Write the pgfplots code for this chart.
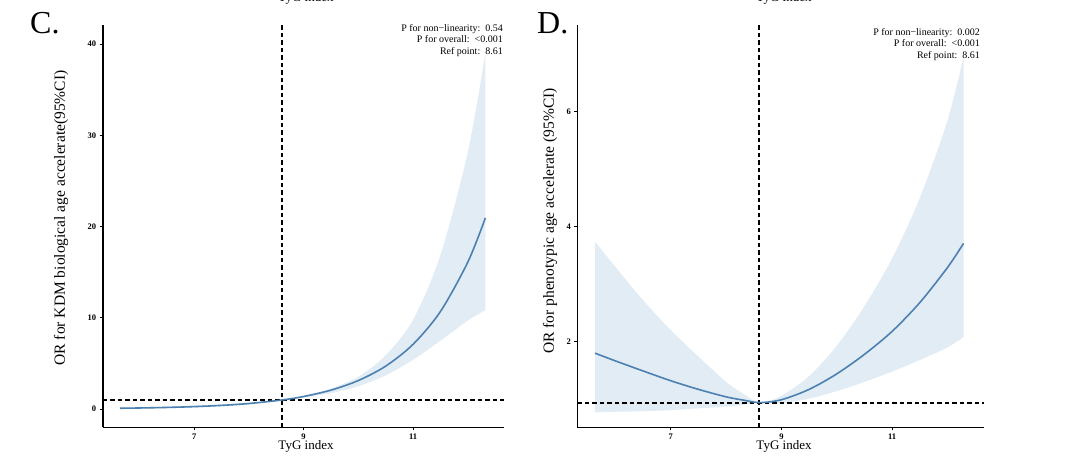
\documentclass[border=0pt]{standalone}
\usepackage{pgfplots}
\pgfplotsset{compat=1.18}
\usepackage{pgfplotstable}
\usepgfplotslibrary{fillbetween}
\usepackage{fontspec}
\setmainfont{Liberation Serif}
\definecolor{curveblue}{RGB}{76,128,176}
\definecolor{bandblue}{RGB}{226,236,245}

\pgfplotstableread{
x y up lo
5.65 0.088 0.16 0.047
6.0 0.118 0.20 0.068
6.5 0.177 0.28 0.113
7.0 0.267 0.38 0.188
7.5 0.402 0.52 0.313
8.0 0.606 0.70 0.52
8.61 1.0 1.0 1.0
9.0 1.377 1.45 1.28
9.5 2.075 2.25 1.75
10.0 3.127 3.55 2.50
10.5 4.71 5.90 3.70
11.0 7.10 9.80 5.40
11.5 10.70 16.90 7.50
12.0 16.12 28.20 9.70
12.32 20.95 39.0 10.83
}\dataC

\pgfplotstableread{
x y up lo
5.63 1.80 3.74 0.77
6.0 1.665 3.30 0.78
6.5 1.49 2.72 0.79
7.0 1.32 2.20 0.81
7.5 1.17 1.74 0.84
8.0 1.04 1.30 0.87
8.3 0.985 1.10 0.90
8.61 0.94 0.94 0.94
9.0 0.99 1.06 0.93
9.5 1.17 1.40 1.01
10.0 1.44 1.93 1.14
10.5 1.78 2.62 1.30
11.0 2.18 3.45 1.48
11.5 2.68 4.50 1.68
12.0 3.29 5.85 1.90
12.29 3.71 6.95 2.08
}\dataD

\begin{document}
\begin{tikzpicture}
\pgfplotsset{
  panel/.style={
    scale only axis, anchor=south west,
    axis x line*=bottom, axis y line*=left,
    axis line style={line width=1.6pt, black},
    xtick={7,9,11},
    tick style={line width=0.8pt, black},
    major tick length=3pt, tick align=outside,
    ticklabel style={font=\bfseries\fontsize{8.5}{8.5}\selectfont},
    /pgf/number format/assume math mode=true,
  },
  refline/.style={black, line width=1.8pt, dash pattern=on 4.5pt off 3pt},
}

% Panel C
\begin{axis}[panel, at={(102.7pt,31.7pt)}, width=401.3pt, height=402.3pt,
  xmin=5.33, xmax=12.66, ymin=-2, ymax=42.1, ytick={0,10,20,30,40}]
  \addplot[name path=cu, draw=none, smooth] table[x=x,y=up]{\dataC};
  \addplot[name path=cl, draw=none, smooth] table[x=x,y=lo]{\dataC};
  \addplot[fill=bandblue, draw=none] fill between[of=cu and cl];
  \addplot[refline] coordinates {(8.61,-2) (8.61,42.1)};
  \addplot[refline] coordinates {(5.33,1) (12.66,1)};
  \addplot[curveblue, line width=1.6pt, smooth] table[x=x,y=y]{\dataC};
\end{axis}

% Panel D
\begin{axis}[panel, at={(577.3pt,31.7pt)}, width=406.7pt, height=402.3pt,
  xmin=5.31, xmax=12.66, ymin=0.51, ymax=7.51, ytick={2,4,6}]
  \addplot[name path=du, draw=none, smooth] table[x=x,y=up]{\dataD};
  \addplot[name path=dl, draw=none, smooth] table[x=x,y=lo]{\dataD};
  \addplot[fill=bandblue, draw=none] fill between[of=du and dl];
  \addplot[refline] coordinates {(8.6,0.51) (8.6,7.51)};
  \addplot[refline] coordinates {(5.31,0.93) (12.66,0.93)};
  \addplot[curveblue, line width=1.6pt, smooth] table[x=x,y=y]{\dataD};
\end{axis}

% labels
\node[font=\fontsize{13}{13}\selectfont] at (306pt,12.5pt) {TyG index};
\node[font=\fontsize{13}{13}\selectfont] at (784pt,12.5pt) {TyG index};
\node[rotate=90, font=\fontsize{15.5}{15.5}\selectfont] at (61pt,241pt) {OR for KDM biological age accelerate(95\%CI)};
\node[rotate=90, font=\fontsize{15.5}{15.5}\selectfont] at (550pt,238pt) {OR for phenotypic age accelerate (95\%CI)};

\node[anchor=north east, align=right, inner sep=0pt, font=\fontsize{10}{11.7}\selectfont] at (503pt,435pt)
  {P for non−linearity:\ \ 0.54\\P for overall:\ \ <0.001\\Ref point:\ \ 8.61};
\node[anchor=north east, align=right, inner sep=0pt, font=\fontsize{10}{11.7}\selectfont] at (980pt,431pt)
  {P for non−linearity:\ \ 0.002\\P for overall:\ \ <0.001\\Ref point:\ \ 8.61};

\node[anchor=base west, inner sep=0pt, font=\fontsize{32}{32}\selectfont] at (30pt,425.5pt) {C.};
\node[anchor=base west, inner sep=0pt, font=\fontsize{32}{32}\selectfont] at (537pt,425.5pt) {D.};

% cut-off labels of the panels above
\node[anchor=base, inner sep=0pt, font=\fontsize{13}{13}\selectfont] at (306pt,457pt) {TyG index};
\node[anchor=base, inner sep=0pt, font=\fontsize{13}{13}\selectfont] at (784pt,457pt) {TyG index};

\pgfresetboundingbox
\useasboundingbox (0,0) rectangle (1080pt,459pt);
\end{tikzpicture}
\end{document}
